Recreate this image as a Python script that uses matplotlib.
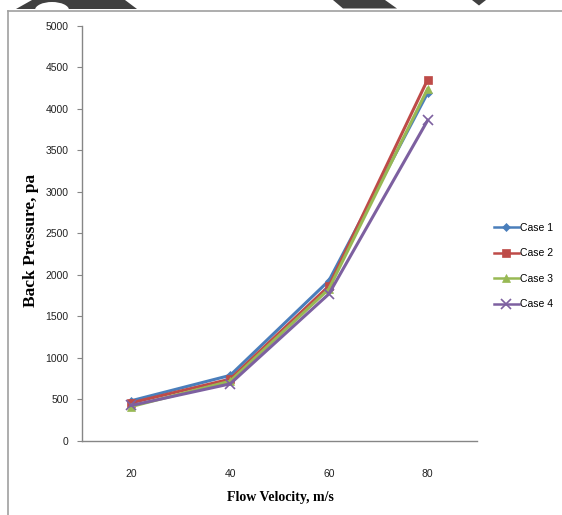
import matplotlib
matplotlib.use("Agg")
import matplotlib.pyplot as plt
from matplotlib.patches import Polygon, Ellipse
from matplotlib.lines import Line2D

velocities = ["20", "40", "60", "80"]
case1 = [485, 790, 1930, 4190]
case2 = [460, 745, 1865, 4350]
case3 = [415, 720, 1830, 4240]
case4 = [428, 688, 1770, 3860]
series_names = ["Case 1", "Case 2", "Case 3", "Case 4"]
y_ticks = [0, 500, 1000, 1500, 2000, 2500, 3000, 3500, 4000, 4500, 5000]

W, H = 562, 515
fig = plt.figure(figsize=(W / 100, H / 100), dpi=100)

def fx(px):
    return px / W

def fy(py):
    return 1 - py / H

# frame border (left and top)
fig.add_artist(Line2D([fx(7.5), fx(7.5)], [fy(10.5), 0], color="#a0a0a0", lw=1.2,
                      transform=fig.transFigure))
fig.add_artist(Line2D([fx(7.5), 1], [fy(10.5), fy(10.5)], color="#a0a0a0", lw=1.2,
                      transform=fig.transFigure))

# dark artifacts at the top edge
dark = "#404040"
shapes = [
    [(16, 9), (32, 0), (125, 0), (137, 9)],
    [(333, 0), (385, 0), (397, 8.5), (343, 8.5)],
    [(472, 0), (486, 0), (479, 5.5)],
]
for pts in shapes:
    fig.add_artist(Polygon([(fx(x), fy(y)) for x, y in pts], closed=True,
                           facecolor=dark, edgecolor="none", transform=fig.transFigure))
fig.add_artist(Ellipse((fx(52), fy(10)), 2 * 17 / W, 2 * 8 / H, facecolor="white",
                       edgecolor="none", transform=fig.transFigure))

ax = fig.add_axes([fx(82), fy(441), (477 - 82) / W, (441 - 25.7) / H])

colors = ["#4A7EBB", "#BE4B48", "#98B954", "#7D60A0"]
markers = ["D", "s", "^", "x"]
msizes = [4.5, 6, 6, 7]
data = [case1, case2, case3, case4]
xpos = list(range(1, len(velocities) + 1))
for vals, c, m, ms, name in zip(data, colors, markers, msizes, series_names):
    ax.plot(xpos, vals, color=c, lw=2.2, marker=m, markersize=ms,
            markeredgewidth=1.2 if m == "x" else 0.5, markeredgecolor=c,
            markerfacecolor=c, label=name)

ax.set_xlim(0.5, 4.5)
ax.set_ylim(0, 5000)
ax.set_xticks(xpos)
ax.set_xticklabels(velocities)
ax.set_yticks(y_ticks)
ax.set_yticklabels([str(v) for v in y_ticks])
for s in ["top", "right"]:
    ax.spines[s].set_visible(False)
for s in ["left", "bottom"]:
    ax.spines[s].set_color("#868686")
    ax.spines[s].set_linewidth(1.0)
ax.tick_params(axis="y", direction="out", length=3.5, width=0.8, color="#868686",
               labelsize=7.5, pad=6, labelcolor="#222222")
ax.tick_params(axis="x", length=0, labelsize=7.5, pad=20, labelcolor="#222222")
for lab in ax.get_xticklabels() + ax.get_yticklabels():
    lab.set_fontfamily("Liberation Sans")

fig.text(fx(280), fy(497), "Flow Velocity, m/s", ha="center", va="center",
         fontsize=10, fontweight="bold", family="Liberation Serif")
fig.text(fx(31), fy(240), "Back Pressure, pa", ha="center", va="center", rotation=90,
         fontsize=12.5, fontweight="bold", family="Liberation Serif")

leg = fig.legend(loc="center left", bbox_to_anchor=(fx(494), fy(266)), frameon=False,
                 prop={"family": "Liberation Sans", "size": 7.5}, handlelength=2.4,
                 handletextpad=0.1, labelspacing=1.5, borderaxespad=0,
                 borderpad=0)
for ln, ms in zip(leg.get_lines(), [4, 5.5, 5.5, 6.5]):
    ln.set_linewidth(1.8)
    ln.set_markersize(ms)

fig.savefig("out.png", dpi=100)
